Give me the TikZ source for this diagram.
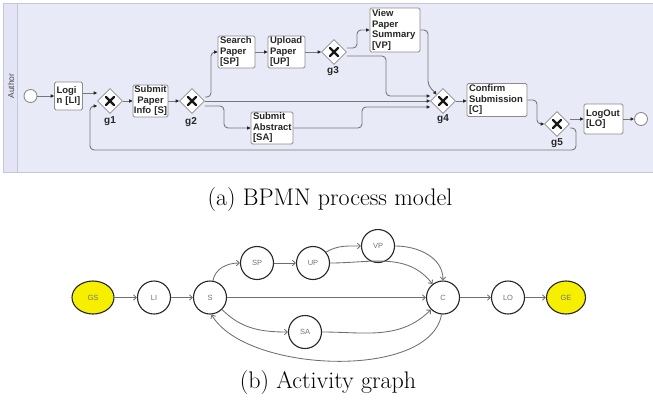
\documentclass[tikz,border=0pt]{standalone}
\usepackage{fontspec}
\usetikzlibrary{arrows.meta,shapes.geometric}
\newfontfamily\bpmnfont{Liberation Sans}
\definecolor{lanebg}{RGB}{233,234,247}
\definecolor{lanehd}{RGB}{227,229,246}
\definecolor{laneln}{RGB}{196,198,218}
\definecolor{boxln}{RGB}{140,140,140}
\definecolor{flowln}{RGB}{120,120,120}
\definecolor{edgeln}{RGB}{110,110,110}
\definecolor{termfill}{RGB}{246,240,0}
\tikzset{
  box/.style={draw=boxln, fill=white, line width=0.8pt, rounded corners=1.5pt,
    font=\bpmnfont\bfseries\fontsize{9.5}{10.5}\selectfont, text=black!85,
    align=left, inner xsep=2pt, inner ysep=0.5pt},
  gw/.style={diamond, draw=boxln, fill=white, line width=0.8pt,
    minimum width=25pt, minimum height=25pt, inner sep=0pt},
  gwx/.style={line width=2.3pt, line cap=round, black!90},
  glabel/.style={font=\bpmnfont\bfseries\fontsize{10}{12}\selectfont, text=black!85},
  evt/.style={circle, draw=boxln, fill=white, line width=0.9pt, minimum size=13pt, inner sep=0pt},
  flow/.style={draw=flowln, line width=0.9pt, rounded corners=4pt,
    -{Triangle[length=3.5pt,width=3.2pt,color=black!85]}},
  act/.style={circle, draw=black!85, line width=1.1pt, minimum size=33pt, inner sep=0pt,
    font=\bpmnfont\fontsize{7.5}{8}\selectfont, text=black!55},
  term/.style={ellipse, draw=black!85, fill=termfill, line width=1.1pt,
    minimum width=42pt, minimum height=33pt, inner sep=0pt,
    font=\bpmnfont\fontsize{7.5}{8}\selectfont, text=black!55},
  edge/.style={draw=edgeln, line width=0.85pt, -{Straight Barb[length=3pt,width=5.5pt]}},
  captext/.style={font=\fontsize{24}{28}\selectfont}
}
\begin{document}
\begin{tikzpicture}[x=1pt,y=-1pt]
\useasboundingbox (0,0) rectangle (653,400);
% ---------- pool ----------
\fill[lanebg] (3,3) rectangle (653,172);
\fill[lanehd] (3,3) rectangle (17,172);
\draw[laneln, line width=0.8pt] (653,3) -- (3,3) -- (3,172) -- (653,172);
\draw[laneln, line width=0.8pt] (17,3) -- (17,172);
\node[rotate=90, font=\bpmnfont\fontsize{8.5}{10}\selectfont, text=black!70] (lane) at (11,86) {Author};
% ---------- BPMN nodes ----------
\node[evt] (st) at (30.5,96) {};
\node[box, text width=24pt, minimum height=28pt] (LI) at (68.5,96) {Logi\\n {[LI]}};
\node[gw] (g1) at (110,101) {};
\node[box, align=center, inner xsep=0.5pt, text width=34pt, minimum height=32pt] (S) at (150.5,101) {Submit\\Paper\\\mbox{Info [S]}};
\node[gw] (g2) at (192,101) {};
\node[box, text width=33pt, minimum height=32pt] (SP) at (236.5,52) {Search\\Paper\\{[SP]}};
\node[box, text width=33pt, minimum height=32pt] (UP) at (286.5,52) {Upload\\Paper\\{[UP]}};
\node[gw] (g3) at (334,52) {};
\node[box, text width=46pt, minimum height=44pt] (VP) at (395,30) {View\\Paper\\Summary\\{[VP]}};
\node[box, text width=38pt, minimum height=32pt] (SA) at (272,128) {Submit\\Abstract\\{[SA]}};
\node[gw] (g4) at (443,101) {};
\node[box, text width=56pt, minimum height=33pt] (C) at (497,100) {Confirm\\Submission\\{[C]}};
\node[gw] (g5) at (557,124) {};
\node[box, text width=35pt, minimum height=30pt] (LO) at (603.5,119) {LogOut\\{[LO]}};
\node[evt] (en) at (641,119) {};
% gateway crosses
\foreach \g in {g1,g2,g3,g4,g5}{
  \draw[gwx] ([shift={(-4pt,-4pt)}]\g.center) -- ([shift={(4pt,4pt)}]\g.center);
  \draw[gwx] ([shift={(-4pt,4pt)}]\g.center) -- ([shift={(4pt,-4pt)}]\g.center);
}
% gateway labels
\node[glabel] (l1) at (110,121) {g1};
\node[glabel] (l2) at (191,122) {g2};
\node[glabel] (l3) at (333,71) {g3};
\node[glabel] (l4) at (443,119) {g4};
\node[glabel] (l5) at (557,143) {g5};
% ---------- BPMN flows ----------
\draw[flow] (st.east) -- (st.east -| LI.west);
\draw[flow] ([yshift=3pt]LI.east) -- ([yshift=3pt]LI.east -| g1.west);
\draw[flow] (g1.east) -- (g1.east -| S.west);
\draw[flow] (S.east) -- (S.east -| g2.west);
\draw[flow] ([yshift=4pt]g2.east) -- (211,97) -- (211,52) -- (SP.west);
\draw[flow] (SP.east) -- (UP.west);
\draw[flow] (UP.east) -- (g3.west);
\draw[flow] ([yshift=4pt]g3.east) -- (357,48) -- (357,30) -- (VP.west);
\draw[flow] ([yshift=-4pt]g3.east) -- (386,56) -- (386,96) -- ([yshift=5pt]g4.west);
\draw[flow] (VP.east) -- (428,30) -- (428,85) -- (g4.north west);
\draw[flow] (g2.east) -- (g4.west);
\draw[flow] ([yshift=-5pt]g2.east) -- (224,106) -- (224,128) -- (SA.west);
\draw[flow] (SA.east) -- (362,128) -- (362,107) -- ([yshift=-6pt]g4.west);
\draw[flow] (g4.east) -- (g4.east -| C.west);
\draw[flow] (C.east) -- (537,100) -- (537,124) -- (g5.west);
\draw[flow] ([yshift=5pt]g5.east) -- ([yshift=5pt]g5.east -| LO.west);
\draw[flow] (LO.east) -- (en.west);
\draw[flow] ([yshift=-4pt]g5.east) -- (576,128) -- (576,150) -- (90,150) -- (90,106) -- ([yshift=-5pt]g1.west);
% caption a
\node[captext] (capa) at (330,200) {(a) BPMN process model};
% ---------- activity graph ----------
\node[term] (GS) at (93,297.5) {GS};
\node[act] (LIg) at (154,297.5) {LI};
\node[act] (Sg) at (210,297.5) {S};
\node[act] (SPg) at (257,263) {SP};
\node[act] (UPg) at (313,263) {UP};
\node[act] (VPg) at (378,246) {VP};
\node[act] (SAg) at (305,332) {SA};
\node[act] (Cg) at (443,297.5) {C};
\node[act] (LOg) at (508,297.5) {LO};
\node[term, minimum width=39pt] (GE) at (566,297.5) {GE};
\draw[edge] (GS) -- (LIg);
\draw[edge] (LIg) -- (Sg);
\draw[edge] (Sg) -- (Cg);
\draw[edge] (Cg) -- (LOg);
\draw[edge] (LOg) -- (GE);
\draw[edge] (SPg) -- (UPg);
\draw[edge] (Sg.80) to[out=80,in=180] (SPg.west);
\draw[edge] (UPg.40) to[out=30,in=180] (VPg.west);
\draw[edge] (UPg.east) to[out=0,in=128] (Cg.128);
\draw[edge] (VPg.east) to[out=0,in=90] (Cg.north);
\draw[edge] (Sg.-45) to[out=-45,in=180] (SAg.west);
\draw[edge] (SAg.east) to[out=0,in=-135] (Cg.-135);
\draw[edge] (Cg.-95) to[out=-100,in=-60,looseness=0.75] (Sg.-85);
% caption b
\node[captext] (capb) at (328,383) {(b) Activity graph};
\end{tikzpicture}
\end{document}
